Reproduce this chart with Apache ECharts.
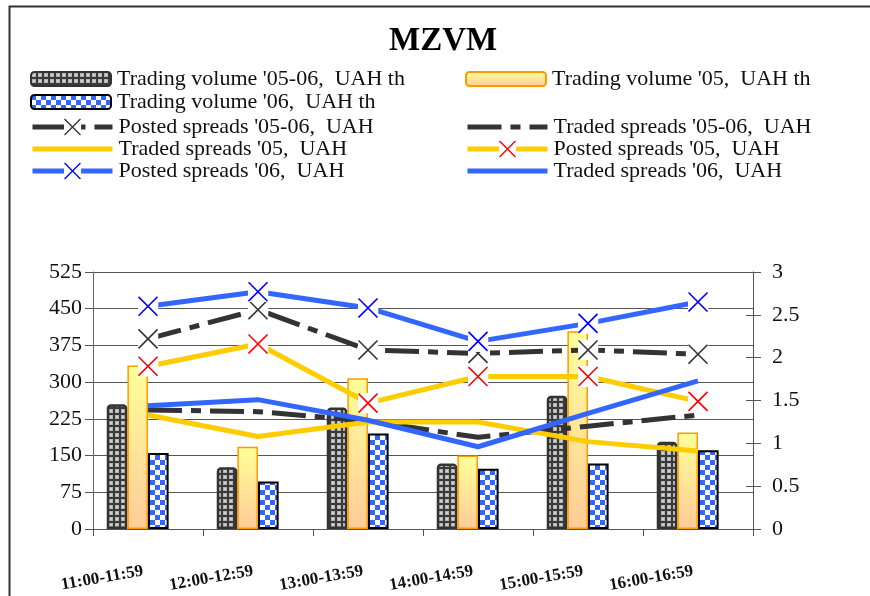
<!DOCTYPE html>
<html><head><meta charset="utf-8">
<script src="https://cdn.jsdelivr.net/npm/echarts@6/dist/echarts.min.js"></script>
<style>html,body{margin:0;padding:0;background:#fff}#c{width:870px;height:596px}</style>
</head><body><div id="c"></div>
<script>
// ---- data ----
const categories = ['11:00-11:59', '12:00-12:59', '13:00-13:59', '14:00-14:59', '15:00-15:59', '16:00-16:59'];
const tradingVolume0506 = [255, 126, 248, 134, 272, 178];
const tradingVolume05 = [334, 168, 308, 150, 404, 197];
const tradingVolume06 = [155, 97, 195, 123, 134, 161];
const postedSpreads0506 = [2.22, 2.56, 2.09, 2.05, 2.09, 2.04];
const tradedSpreads0506 = [1.39, 1.37, 1.26, 1.07, 1.2, 1.33];
const tradedSpreads05 = [1.33, 1.08, 1.25, 1.25, 1.02, 0.91];
const postedSpreads05 = [1.9, 2.16, 1.47, 1.78, 1.78, 1.49];
const postedSpreads06 = [2.6, 2.77, 2.58, 2.19, 2.4, 2.65];
const tradedSpreads06 = [1.44, 1.51, 1.27, 0.96, 1.35, 1.73];
const leftAxisMax = 525, leftAxisStep = 75;
const rightAxisMax = 3, rightAxisStep = 0.5;

const names = {
  tv0506: "Trading volume '05-06,  UAH th",
  tv05: "Trading volume '05,  UAH th",
  tv06: "Trading volume '06,  UAH th",
  p0506: "Posted spreads '05-06,  UAH",
  t0506: "Traded spreads '05-06,  UAH",
  t05: "Traded spreads '05,  UAH",
  p05: "Posted spreads '05,  UAH",
  p06: "Posted spreads '06,  UAH",
  t06: "Traded spreads '06,  UAH"
};

// ---- styles ----
const FONT = 'Liberation Serif';
function makePattern(w, h, draw) {
  const c = document.createElement('canvas');
  c.width = w; c.height = h;
  draw(c.getContext('2d'));
  return { image: c, repeat: 'repeat' };
}
const darkPattern = makePattern(6, 6, g => {
  g.fillStyle = '#3a3a3a'; g.fillRect(0, 0, 6, 6);
  g.fillStyle = '#b4b4b4'; g.fillRect(1, 1, 4, 4);
  g.fillStyle = '#d0d0d0'; g.fillRect(2, 2, 2, 2);
});
const checkPattern = makePattern(10, 10, g => {
  g.fillStyle = '#ffffff'; g.fillRect(0, 0, 10, 10);
  g.fillStyle = '#3366ff'; g.fillRect(0, 0, 5, 5); g.fillRect(5, 5, 5, 5);
});
const orangeGradient = {
  type: 'linear', x: 0, y: 0, x2: 0, y2: 1,
  colorStops: [{ offset: 0, color: '#ffff99' }, { offset: 1, color: '#ffcc99' }]
};
function svgSymbol(inner) {
  const svg = '<svg xmlns="http://www.w3.org/2000/svg" width="42" height="42" viewBox="0 0 21 21">' + inner + '</svg>';
  return 'image://data:image/svg+xml;charset=utf-8,' + encodeURIComponent(svg);
}
function xMarker(color) {
  return svgSymbol('<rect x="0" y="0" width="21" height="21" fill="#ffffff"/>' +
    '<path d="M1,1L20,20M20,1L1,20" stroke="' + color + '" stroke-width="1.6" fill="none"/>');
}
const blankMarker = svgSymbol('');
const DASH = [34, 9, 10, 9];

function lineSeries(name, data, color, marker, dashed) {
  return {
    type: 'line', name: name, data: data, yAxisIndex: 1,
    symbol: marker ? xMarker(marker) : blankMarker, symbolSize: 21, showSymbol: !!marker,
    lineStyle: { color: color, width: 5, type: dashed ? DASH : 'solid', cap: 'butt' },
    itemStyle: { color: color },
    emphasis: { disabled: true }
  };
}

const series = [
  { type: 'bar', name: names.tv0506, data: tradingVolume0506, yAxisIndex: 0, barGap: '0%', barCategoryGap: '25%',
    itemStyle: { color: darkPattern, borderColor: '#333333', borderWidth: 2.5, borderRadius: [3, 3, 0, 0] }, emphasis: { disabled: true } },
  { type: 'bar', name: names.tv05, data: tradingVolume05, yAxisIndex: 0, barGap: '0%', barCategoryGap: '25%',
    itemStyle: { color: orangeGradient, borderColor: '#ff9900', borderWidth: 1.5 }, emphasis: { disabled: true } },
  { type: 'bar', name: names.tv06, data: tradingVolume06, yAxisIndex: 0, barGap: '0%', barCategoryGap: '25%',
    itemStyle: { color: checkPattern, borderColor: '#000000', borderWidth: 2 }, emphasis: { disabled: true } },
  { type: 'bar', name: 'spacer', data: [], yAxisIndex: 0, barGap: '0%', barCategoryGap: '25%' },
  lineSeries(names.p0506, postedSpreads0506, '#333333', '#333333', true),
  lineSeries(names.t0506, tradedSpreads0506, '#333333', null, true),
  lineSeries(names.t05, tradedSpreads05, '#ffcc00', null, false),
  lineSeries(names.p05, postedSpreads05, '#ffcc00', '#ff0000', false),
  lineSeries(names.p06, postedSpreads06, '#3366ff', '#0000ff', false),
  lineSeries(names.t06, tradedSpreads06, '#3366ff', null, false)
];

// legend entries: [key, left, centerY, itemHeight]
const legendLayout = [
  ['tv0506', 30, 79, 14], ['tv05', 465, 79, 14], ['tv06', 30, 102, 14],
  ['p0506', 30, 127, 22], ['t0506', 465, 127, 22],
  ['t05', 30, 149, 22], ['p05', 465, 149, 22],
  ['p06', 30, 171, 22], ['t06', 465, 171, 22]
];
const legends = legendLayout.map(l => ({
  data: [names[l[0]]], left: l[1], top: l[2] - Math.max(l[3], 22) / 2, padding: 0,
  itemWidth: 80, itemHeight: l[3], itemGap: 0, selectedMode: false,
  lineStyle: { width: 5 },
  textStyle: { fontFamily: FONT, fontSize: 22, color: '#111', padding: [0, 0, 0, 1] }
}));

const axisLabelStyle = { fontFamily: FONT, fontSize: 22, color: '#111' };

const option = {
  animation: false,
  backgroundColor: '#ffffff',
  title: { text: 'MZVM', left: 389, top: 25, padding: 0,
    textStyle: { fontFamily: FONT, fontSize: 33, fontWeight: 'bold', color: '#000' } },
  legend: legends,
  grid: { left: 93, right: 117, top: 272, bottom: 67, containLabel: false },
  xAxis: {
    type: 'category', data: categories, boundaryGap: true,
    axisLine: { lineStyle: { color: '#555', width: 1 } },
    axisTick: { show: true, length: 7, lineStyle: { color: '#555' } },
    axisLabel: { rotate: 10, margin: 41, padding: [0, 5, 0, 0], interval: 0,
      fontFamily: FONT, fontSize: 17, fontWeight: 'bold', color: '#111' }
  },
  yAxis: [
    { type: 'value', min: 0, max: leftAxisMax, interval: leftAxisStep, position: 'left',
      axisLine: { show: true, lineStyle: { color: '#666' } },
      axisTick: { show: true, length: 8, lineStyle: { color: '#555' } },
      axisLabel: Object.assign({ margin: 11 }, axisLabelStyle),
      splitLine: { show: true, lineStyle: { color: '#555555', width: 1 } } },
    { type: 'value', min: 0, max: rightAxisMax, interval: rightAxisStep, position: 'right',
      axisLine: { show: true, lineStyle: { color: '#555' } },
      axisTick: { show: true, length: 8, lineStyle: { color: '#555' } },
      axisLabel: Object.assign({ margin: 19 }, axisLabelStyle),
      splitLine: { show: false } },
    { type: 'value', min: 0, max: rightAxisMax, interval: rightAxisStep, position: 'right',
      axisLine: { show: false },
      axisTick: { show: true, inside: true, length: 7, lineStyle: { color: '#555' } },
      axisLabel: { show: false }, splitLine: { show: false } }
  ],
  graphic: [
    { type: 'polyline', shape: { points: [[9.5, 596], [9.5, 6.5], [870, 6.5]] }, style: { stroke: '#333', lineWidth: 2, fill: null }, silent: true }
  ],
  series: series
};

const chart = echarts.init(document.getElementById('c'), null, { renderer: 'canvas' });
chart.setOption(option);
</script>
</body></html>
